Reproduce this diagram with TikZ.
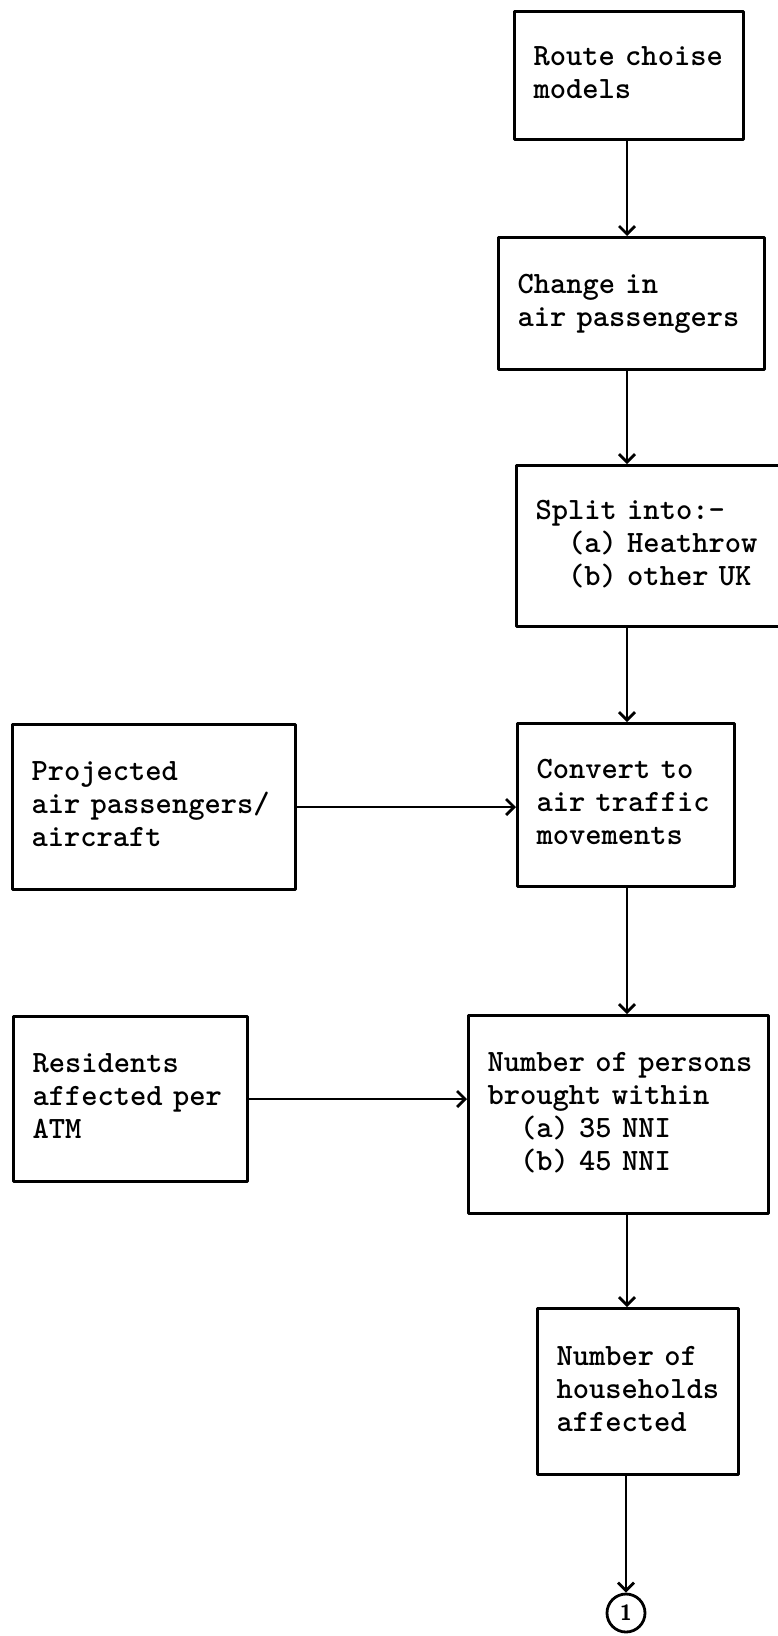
\documentclass[tikz,border=0pt]{standalone}
\usepackage{tikz}
\usetikzlibrary{arrows.meta}
\newcommand{\boxlines}[1]{\begin{tabular}{@{}l@{}}#1\end{tabular}}
\newcommand{\typewriter}{\fontsize{31}{33}\selectfont\ttfamily\bfseries
  \spaceskip=\fontcharwd\font 120\relax\xspaceskip=\spaceskip}
\tikzset{
  every picture/.style={line join=round, line cap=round, >={Straight Barb[length=8pt,width=16pt]}},
  box/.style={draw, line width=3pt, anchor=north west, inner xsep=19pt, inner ysep=0pt, align=left, font=\typewriter},
  flow/.style={->, line width=2.8pt},
  marker/.style={draw, circle, line width=2.8pt, minimum size=38pt, inner sep=0pt, font=\fontsize{22}{22}\selectfont\sffamily\bfseries},
}
\begin{document}
\begin{tikzpicture}[x=1pt,y=-1pt]
\useasboundingbox (0,0) rectangle (778,1636);
\clip (0,0) rectangle (778,1636);
\coordinate (spine) at (627,0);
\node[box,text width=191pt,minimum height=128pt] (route) at (513,10) {\boxlines{Route choise\\models}};
\node[box,text width=228pt,minimum height=132pt] (change) at (497,236) {\boxlines{Change in\\air passengers}};
\node[box,text width=262pt,minimum height=161pt] (split) at (515,464) {\boxlines{Split into:-\\\hphantom{xx}(a) Heathrow\\\hphantom{xx}(b) other UK}};
\node[box,text width=245pt,minimum height=165pt] (proj) at (11,723) {\boxlines{Projected\\air passengers/\\aircraft}};
\node[box,text width=179pt,minimum height=163pt] (convert) at (516,722) {\boxlines{Convert to\\air traffic\\movements}};
\node[box,text width=196pt,minimum height=165pt] (resid) at (12,1015) {\boxlines{Residents\\affected per\\ATM}};
\node[box,text width=262pt,minimum height=198pt] (persons) at (467,1014) {\boxlines{Number of persons\\brought within\\\hphantom{xx}(a) 35 NNI\\\hphantom{xx}(b) 45 NNI}};
\node[box,text width=163pt,minimum height=166pt] (house) at (536,1307) {\boxlines{Number of\\households\\affected}};
\node[marker] (c1) at (626,1613) {1};
\draw[flow] (route.south -| spine) -- (change.north -| spine);
\draw[flow] (change.south -| spine) -- (split.north -| spine);
\draw[flow] (split.south -| spine) -- (convert.north -| spine);
\draw[flow] (proj.east) -- (proj.east -| convert.west);
\draw[flow] (convert.south -| spine) -- (persons.north -| spine);
\draw[flow] (resid.east) -- (resid.east -| persons.west);
\draw[flow] (persons.south -| spine) -- (house.north -| spine);
\draw[flow] (c1.north |- house.south) -- (c1.north);
\end{tikzpicture}
\end{document}
